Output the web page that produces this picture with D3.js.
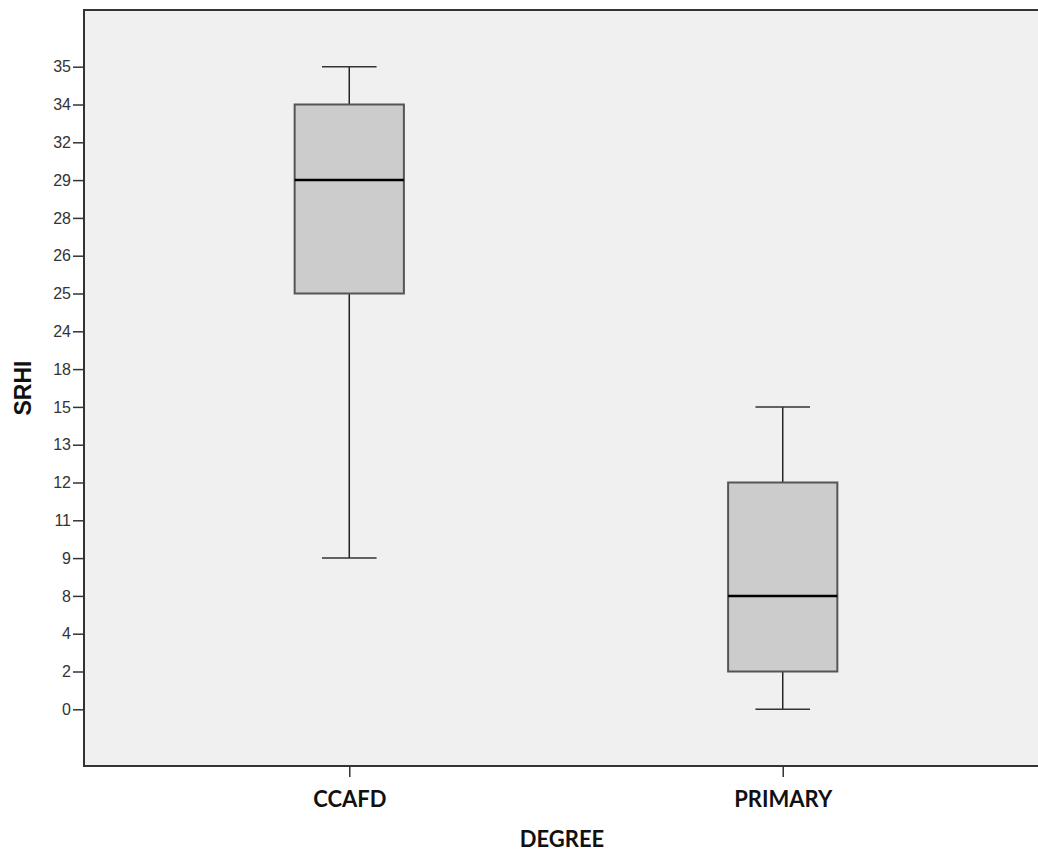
<!DOCTYPE html>
<html>
<head>
<meta charset="utf-8">
<script src="https://cdn.jsdelivr.net/npm/d3@7"></script>
<style>
    body { margin: 0; background: #ffffff; }
    svg { display: block; }
</style>
</head>
<body>
<div id="chart"></div>
<script>
// Categories on the x axis
let degrees = ["CCAFD", "PRIMARY"];
// SRHI axis is categorical in the source chart (values listed top to bottom)
let srhi_levels = [35, 34, 32, 29, 28, 26, 25, 24, 18, 15, 13, 12, 11, 9, 8, 4, 2, 0];
// Box statistics per degree
let whisker_low = [9, 0];
let quart_low = [25, 2];
let medians = [29, 8];
let quart_high = [34, 12];
let whisker_high = [35, 15];

let width = 1038, height = 853;
let plot = {left: 84, top: 10, right: 1048, bottom: 766};

let svg = d3.select("#chart").append("svg")
    .attr("width", width)
    .attr("height", height);

let x = d3.scalePoint()
    .domain(degrees)
    .range([plot.left, plot.right])
    .padding(0.612);

let y = d3.scalePoint()
    .domain(srhi_levels)
    .range([plot.top, plot.bottom])
    .padding(1.5);

let box_width = x.step() * 0.252;
let cap_width = box_width * 0.5;

// plot background
svg.append("rect")
    .attr("x", plot.left)
    .attr("y", plot.top)
    .attr("width", plot.right - plot.left)
    .attr("height", plot.bottom - plot.top)
    .attr("fill", "#f0f0f0")
    .attr("stroke", "#333333")
    .attr("stroke-width", 2);

let stats = degrees.map(function(d, i) {
    return {name: d, lo: whisker_low[i], q1: quart_low[i], med: medians[i], q3: quart_high[i], hi: whisker_high[i]};
});

let boxes = svg.append("g").selectAll("g")
    .data(stats)
    .enter().append("g");

// whiskers
boxes.append("line")
    .attr("x1", d => x(d.name)).attr("x2", d => x(d.name))
    .attr("y1", d => y(d.hi)).attr("y2", d => y(d.q3))
    .attr("stroke", "#222").attr("stroke-width", 1.5);
boxes.append("line")
    .attr("x1", d => x(d.name)).attr("x2", d => x(d.name))
    .attr("y1", d => y(d.q1)).attr("y2", d => y(d.lo))
    .attr("stroke", "#222").attr("stroke-width", 1.5);
boxes.append("line")
    .attr("x1", d => x(d.name) - cap_width / 2).attr("x2", d => x(d.name) + cap_width / 2)
    .attr("y1", d => y(d.hi)).attr("y2", d => y(d.hi))
    .attr("stroke", "#333").attr("stroke-width", 1.5);
boxes.append("line")
    .attr("x1", d => x(d.name) - cap_width / 2).attr("x2", d => x(d.name) + cap_width / 2)
    .attr("y1", d => y(d.lo)).attr("y2", d => y(d.lo))
    .attr("stroke", "#333").attr("stroke-width", 1.5);

// box
boxes.append("rect")
    .attr("x", d => x(d.name) - box_width / 2)
    .attr("width", box_width)
    .attr("y", d => y(d.q3))
    .attr("height", d => y(d.q1) - y(d.q3))
    .attr("fill", "#cccccc")
    .attr("stroke", "#555555")
    .attr("stroke-width", 2);

// median
boxes.append("line")
    .attr("x1", d => x(d.name) - box_width / 2).attr("x2", d => x(d.name) + box_width / 2)
    .attr("y1", d => y(d.med)).attr("y2", d => y(d.med))
    .attr("stroke", "#000").attr("stroke-width", 2.5);

// y axis
let y_axis = svg.append("g")
    .attr("transform", "translate(" + plot.left + ",0)")
    .call(d3.axisLeft(y).tickSize(11).tickPadding(2));
y_axis.select(".domain").remove();
y_axis.selectAll("line").attr("stroke", "#333").attr("stroke-width", 1.5);
y_axis.selectAll("text")
    .attr("font-family", "Liberation Sans, Arial, sans-serif")
    .attr("font-size", "16px")
    .attr("fill", "#333");

// x axis
let x_axis = svg.append("g")
    .attr("transform", "translate(0," + plot.bottom + ")")
    .call(d3.axisBottom(x).tickSize(11).tickPadding(14));
x_axis.select(".domain").remove();
x_axis.selectAll("line").attr("stroke", "#333").attr("stroke-width", 1.5);
x_axis.selectAll("text")
    .attr("font-family", "Lato, sans-serif")
    .attr("font-weight", "bold")
    .attr("font-size", "22px")
    .attr("fill", "#111");

// axis titles
svg.append("text")
    .attr("x", (plot.left + width) / 2 + 1)
    .attr("y", 847)
    .attr("text-anchor", "middle")
    .attr("font-family", "Lato, sans-serif")
    .attr("font-weight", "bold")
    .attr("font-size", "22px")
    .attr("fill", "#111")
    .text("DEGREE");

svg.append("text")
    .attr("transform", "translate(31," + ((plot.top + plot.bottom) / 2) + ") rotate(-90)")
    .attr("text-anchor", "middle")
    .attr("font-family", "Liberation Sans, Arial, sans-serif")
    .attr("font-weight", "bold")
    .attr("font-size", "23px")
    .attr("fill", "#111")
    .text("SRHI");
</script>
</body>
</html>
